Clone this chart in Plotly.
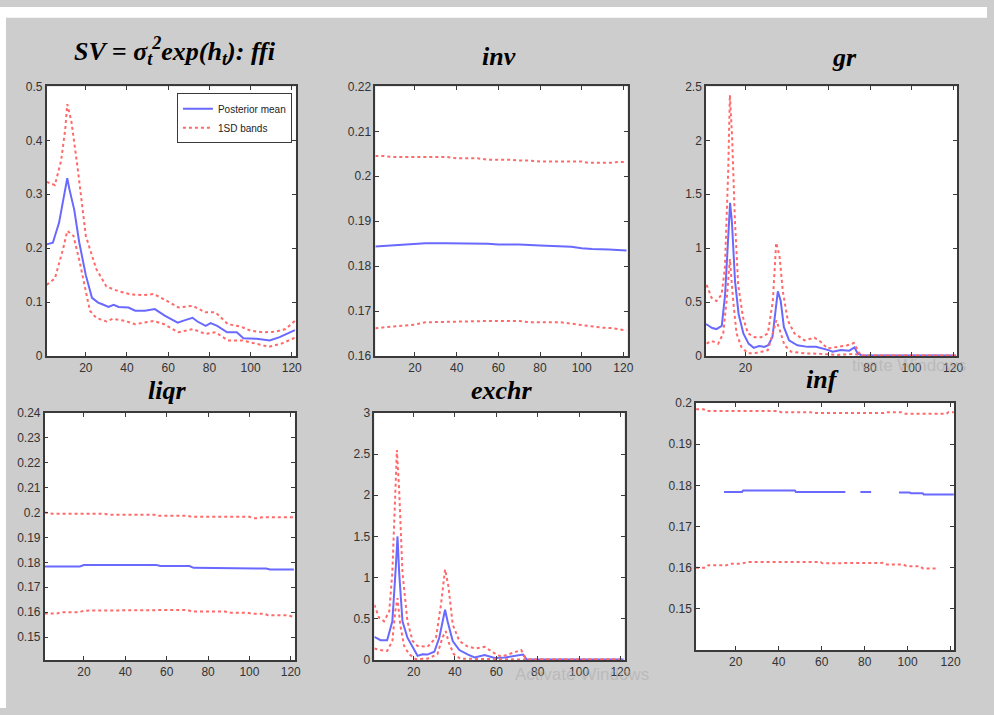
import plotly.graph_objects as go

W, H = 994, 715

# ---------------- data ----------------
titles = ["<b><i>SV = σ<sub>t</sub><sup>2</sup>exp(h<sub>t</sub>): ffi</i></b>",
          "<b><i>inv</i></b>", "<b><i>gr</i></b>",
          "<b><i>liqr</i></b>", "<b><i>exchr</i></b>", "<b><i>inf</i></b>"]

# ffi
ffi_mean_x = [1, 4, 7, 9, 11, 12, 14.4, 16.8, 20, 23, 26, 28, 31, 33.5, 36, 40.7, 44, 48.7, 53.5, 58.3,
              64.6, 68.6, 71.8, 74.2, 78.2, 80.6, 83.8, 88.6, 93.3, 96.5, 102.9, 109.3, 114.1, 121.5]
ffi_mean_y = [0.207, 0.21, 0.247, 0.285, 0.330, 0.31, 0.271, 0.211, 0.150, 0.108, 0.099, 0.096, 0.091, 0.095,
              0.091, 0.090, 0.084, 0.084, 0.087, 0.075, 0.062, 0.067, 0.071, 0.064, 0.056, 0.061, 0.056,
              0.044, 0.044, 0.033, 0.032, 0.029, 0.035, 0.048]
ffi_up_x = [1, 5, 8, 10, 11, 13, 16, 20, 25, 30, 36, 42, 48, 53, 58, 65, 72, 78, 83, 89, 95, 100, 106, 112,
            117, 121.5]
ffi_up_y = [0.323, 0.317, 0.362, 0.42, 0.467, 0.435, 0.350, 0.223, 0.162, 0.129, 0.120, 0.114, 0.113, 0.115,
            0.105, 0.090, 0.093, 0.081, 0.081, 0.059, 0.055, 0.047, 0.044, 0.045, 0.050, 0.065]
ffi_lo_x = [1, 5, 9, 11, 14, 17, 20, 22, 25, 30, 33, 39, 44, 49, 53, 58, 65, 72, 78, 83, 89, 96, 103, 109,
            115, 121.5]
ffi_lo_y = [0.132, 0.144, 0.199, 0.232, 0.223, 0.175, 0.12, 0.084, 0.071, 0.064, 0.069, 0.065, 0.059, 0.062,
            0.065, 0.059, 0.044, 0.050, 0.041, 0.044, 0.029, 0.029, 0.023, 0.017, 0.023, 0.034]

# inv
inv_mean_x = [1, 10, 20, 25, 35, 45, 55, 60, 70, 80, 85, 95, 100, 105, 113, 121.5]
inv_mean_y = [0.1844, 0.1846, 0.1849, 0.1851, 0.1851, 0.1851, 0.1850, 0.1848, 0.1848, 0.1846, 0.1845,
              0.1843, 0.1840, 0.1838, 0.1837, 0.1835]
inv_up_x = [1, 5, 10, 20, 35, 40, 50, 55, 65, 70, 75, 80, 90, 100, 103, 110, 115, 117, 121.5]
inv_up_y = [0.2045, 0.2045, 0.2043, 0.2043, 0.2043, 0.2040, 0.2040, 0.2037, 0.2037, 0.2035, 0.2035,
            0.2033, 0.2033, 0.2033, 0.2030, 0.2030, 0.2030, 0.2032, 0.2032]
inv_lo_x = [1, 10, 20, 25, 35, 40, 55, 70, 75, 90, 95, 100, 110, 115, 121.5]
inv_lo_y = [0.1662, 0.1665, 0.1670, 0.1675, 0.1676, 0.1678, 0.1678, 0.1678, 0.1675, 0.1675, 0.1672,
            0.1668, 0.1663, 0.1662, 0.1657]

# gr
gr_mean_x = [1, 4, 6, 8.6, 10.2, 11.8, 12.6, 13.5, 15, 16.7, 19, 21.5, 24, 26.5, 29, 31, 33, 34.5, 35.6, 37,
             38.5, 41, 45, 50, 54, 60, 62, 66, 70, 72.5, 74, 76, 121.5]
gr_mean_y = [0.297, 0.26, 0.25, 0.28, 0.57, 1.12, 1.42, 1.24, 0.69, 0.39, 0.21, 0.115, 0.076, 0.093, 0.085,
             0.1, 0.176, 0.42, 0.6, 0.51, 0.27, 0.145, 0.1, 0.085, 0.085, 0.055, 0.04, 0.055, 0.05, 0.08,
             0.025, 0.005, 0.005]
gr_up_x = [1.3, 3.7, 6.1, 8.5, 10.1, 11.7, 12.5, 13.6, 14.9, 16.5, 18.8, 21.2, 24.4, 27.6, 30.8, 33.2, 34.8,
           36.4, 38, 40.4, 43.6, 48.4, 53.2, 56.4, 59.5, 64.3, 69.1, 72.3, 74.7, 76.3, 121.5]
gr_up_y = [0.66, 0.54, 0.51, 0.57, 0.81, 1.72, 2.42, 2.02, 1.27, 0.66, 0.36, 0.21, 0.175, 0.175, 0.21,
           0.51, 1.05, 0.93, 0.6, 0.33, 0.21, 0.145, 0.17, 0.13, 0.07, 0.085, 0.1, 0.12, 0.03, 0.005, 0.005]
gr_lo_x = [1.3, 3.7, 6.9, 9.3, 10.9, 12.5, 14.1, 15.7, 18, 21.2, 26, 30.8, 33.2, 34.8, 36.4, 38.8, 42, 48.4,
           56.4, 64.3, 72.3, 75.5, 121.5]
gr_lo_y = [0.115, 0.14, 0.115, 0.21, 0.51, 0.9, 0.51, 0.21, 0.085, 0.025, 0.03, 0.055, 0.21, 0.33, 0.25,
           0.1, 0.04, 0.025, 0.02, 0.01, 0.02, 0.005, 0.005]

# liqr
liqr_mean_x = [1, 18, 20, 55, 57, 71, 73, 95, 100, 108, 110, 121.5]
liqr_mean_y = [0.1783, 0.1783, 0.1789, 0.1789, 0.1785, 0.1785, 0.1778, 0.1778, 0.1775, 0.1775, 0.1771, 0.1771]
liqr_up_x = [1, 3, 5, 30, 32, 54, 56, 70, 72, 100, 102, 104, 106, 121.5]
liqr_up_y = [0.2000, 0.1998, 0.1995, 0.1995, 0.1991, 0.1991, 0.1987, 0.1987, 0.1983, 0.1983, 0.1977, 0.1977,
             0.1981, 0.1981]
liqr_lo_x = [1, 7, 9, 18, 20, 27, 29, 70, 72, 88, 90, 99, 101, 107, 109, 118, 121.5]
liqr_lo_y = [0.1595, 0.1595, 0.1600, 0.1600, 0.1606, 0.1606, 0.1609, 0.1609, 0.1603, 0.1603, 0.1598, 0.1598,
             0.1594, 0.1594, 0.1588, 0.1588, 0.1581]

# exchr
ex_mean_x = [1, 4, 7.2, 9.7, 11.4, 12.2, 13, 14.6, 17, 19.5, 21.9, 24.3, 26.7, 30, 32.4, 35.2, 36.4, 38.9,
             42.1, 46.3, 49.5, 54.3, 59.2, 64, 68.8, 72.9, 74.5, 75.3, 121.5]
ex_mean_y = [0.28, 0.24, 0.24, 0.47, 1.14, 1.5, 1.06, 0.47, 0.27, 0.15, 0.05, 0.07, 0.065, 0.1, 0.27, 0.61,
             0.47, 0.23, 0.12, 0.065, 0.03, 0.06, 0.025, 0.03, 0.05, 0.065, 0.01, 0.005, 0.005]
ex_up_x = [1, 3.3, 5.7, 8.2, 9.7, 11.1, 11.9, 13, 14.6, 17, 19.5, 21.9, 26.7, 30.8, 33.2, 35.2, 36.8, 38.9,
           42.1, 46.3, 50.3, 54.3, 59.2, 62.4, 66.4, 72, 74, 75.3, 121.5]
ex_up_y = [0.67, 0.51, 0.47, 0.59, 1.06, 1.94, 2.55, 2.06, 1.06, 0.47, 0.23, 0.17, 0.16, 0.27, 0.67, 1.1,
           0.9, 0.43, 0.23, 0.16, 0.14, 0.16, 0.08, 0.04, 0.07, 0.12, 0.03, 0.005, 0.005]
ex_lo_x = [1, 4, 7.2, 9.7, 11.1, 12.2, 13.5, 15.4, 17.8, 21, 26.7, 31.5, 33.9, 35.5, 37, 39.4, 42.6, 60,
           75, 121.5]
ex_lo_y = [0.14, 0.12, 0.11, 0.23, 0.59, 0.75, 0.43, 0.17, 0.07, 0.01, 0.015, 0.07, 0.27, 0.35, 0.21, 0.07,
           0.015, 0.01, 0.005, 0.005]

# inf (mean has gaps)
inf_mean_x = [14.5, 22.9, 23.4, 47.5, 48, 71, 75, 78, 83, 90, 96, 101, 101.5, 107, 107.5, 121.5]
inf_mean_y = [0.1784, 0.1784, 0.1788, 0.1788, 0.1784, 0.1784, None, 0.1784, 0.1784, None, 0.1783, 0.1783,
              0.1781, 0.1781, 0.1778, 0.1778]
inf_up_x = [1.5, 5, 6, 40, 41, 55, 56, 89, 90, 97, 99, 118, 119, 121.5]
inf_up_y = [0.1985, 0.1985, 0.1981, 0.1981, 0.1978, 0.1978, 0.1976, 0.1976, 0.1978, 0.1978, 0.1974, 0.1974,
            0.1978, 0.1978]
inf_lo_x = [1.5, 5.7, 7.2, 15.7, 17.2, 22.6, 25.7, 59.5, 60.3, 71.8, 73.4, 88.8, 90.3, 98, 99.5, 105.7,
            107.2, 113.8]
inf_lo_y = [0.16, 0.16, 0.1606, 0.1606, 0.161, 0.161, 0.1614, 0.1614, 0.1611, 0.1611, 0.1612, 0.1612,
            0.1608, 0.1608, 0.1604, 0.1604, 0.1598, 0.1598]

# y-axis settings per panel
y_ranges = [[0, 0.5], [0.16, 0.22], [0, 2.5], [0.1408, 0.24], [0, 3], [0.14, 0.2]]
y_ticks = [[0, 0.1, 0.2, 0.3, 0.4, 0.5],
           [0.16, 0.17, 0.18, 0.19, 0.2, 0.21, 0.22],
           [0, 0.5, 1, 1.5, 2, 2.5],
           [0.15, 0.16, 0.17, 0.18, 0.19, 0.2, 0.21, 0.22, 0.23, 0.24],
           [0, 0.5, 1, 1.5, 2, 2.5, 3],
           [0.15, 0.16, 0.17, 0.18, 0.19, 0.2]]
y_ticktext = [["0", "0.1", "0.2", "0.3", "0.4", "0.5"],
              ["0.16", "0.17", "0.18", "0.19", "0.2", "0.21", "0.22"],
              ["0", "0.5", "1", "1.5", "2", "2.5"],
              ["0.15", "0.16", "0.17", "0.18", "0.19", "0.2", "0.21", "0.22", "0.23", "0.24"],
              ["0", "0.5", "1", "1.5", "2", "2.5", "3"],
              ["0.15", "0.16", "0.17", "0.18", "0.19", "0.2"]]
# gr: labels 40 and 60 are hidden in the picture (ticks kept as unlabeled minor ticks)
x_labeled = [[20, 40, 60, 80, 100, 120], [20, 40, 60, 80, 100, 120], [20, 80, 100, 120],
             [20, 40, 60, 80, 100, 120], [20, 40, 60, 80, 100, 120], [20, 40, 60, 80, 100, 120]]
x_unlabeled = [[], [], [40, 60], [], [], []]
x_ranges = [[1, 122], [1, 122], [1, 122], [1, 122], [1, 122], [1.5, 121.7]]

series = [
    (ffi_mean_x, ffi_mean_y, ffi_up_x, ffi_up_y, ffi_lo_x, ffi_lo_y),
    (inv_mean_x, inv_mean_y, inv_up_x, inv_up_y, inv_lo_x, inv_lo_y),
    (gr_mean_x, gr_mean_y, gr_up_x, gr_up_y, gr_lo_x, gr_lo_y),
    (liqr_mean_x, liqr_mean_y, liqr_up_x, liqr_up_y, liqr_lo_x, liqr_lo_y),
    (ex_mean_x, ex_mean_y, ex_up_x, ex_up_y, ex_lo_x, ex_lo_y),
    (inf_mean_x, inf_mean_y, inf_up_x, inf_up_y, inf_lo_x, inf_lo_y),
]

# ---------------- layout geometry (window pixels) ----------------
boxes = [(47, 298, 81, 356), (378, 632, 81, 356), (711, 964, 81, 356),
         (45, 297, 414, 666), (377, 629, 414, 666), (701, 961, 404, 656)]
title_pos = [(176, 45), (503, 50), (850, 51), (168, 391), (506, 391), (828, 380)]


def px(x):
    return x / W


def py(y):
    return 1 - y / H


BLUE = "rgb(105,105,255)"
RED = "rgb(255,105,105)"
AX = "#3a3a3a"
TICKFONT = dict(family="Liberation Sans Narrow, Arial Narrow, Liberation Sans, Arial", size=12, color="#333333")

fig = go.Figure()
layout = dict(width=W, height=H, margin=dict(l=0, r=0, t=0, b=0),
              paper_bgcolor="#cdcdcd", plot_bgcolor="white", showlegend=True)

for i, (mx, my, ux, uy, lx, ly) in enumerate(series):
    n = i + 1
    xa = "x" if n == 1 else f"x{n}"
    ya = "y" if n == 1 else f"y{n}"
    fig.add_trace(go.Scatter(x=mx, y=my, mode="lines", xaxis=xa, yaxis=ya,
                             line=dict(color=BLUE, width=2), name="Posterior mean",
                             showlegend=(n == 1), connectgaps=False))
    fig.add_trace(go.Scatter(x=ux, y=uy, mode="lines", xaxis=xa, yaxis=ya,
                             line=dict(color=RED, width=2, dash="dot"), name="1SD bands",
                             showlegend=(n == 1), legendgroup="bands"))
    fig.add_trace(go.Scatter(x=lx, y=ly, mode="lines", xaxis=xa, yaxis=ya,
                             line=dict(color=RED, width=2, dash="dot"), name="1SD bands",
                             showlegend=False, legendgroup="bands"))
    x0, x1, y0, y1 = boxes[i]
    common = dict(showline=True, mirror="ticks", linecolor=AX, linewidth=1.5,
                  ticks="inside", ticklen=4, tickwidth=1, tickcolor=AX,
                  showgrid=False, zeroline=False, tickfont=TICKFONT)
    xdict = dict(domain=[px(x0), px(x1)], range=x_ranges[i], anchor=ya,
                 tickmode="array", tickvals=x_labeled[i],
                 ticktext=[str(v) for v in x_labeled[i]], **common)
    if x_unlabeled[i]:
        xdict["minor"] = dict(tickmode="array", tickvals=x_unlabeled[i], ticks="inside",
                              ticklen=4, tickwidth=1, tickcolor=AX, showgrid=False)
    layout["xaxis" if n == 1 else f"xaxis{n}"] = xdict
    layout["yaxis" if n == 1 else f"yaxis{n}"] = dict(
        domain=[py(y1), py(y0)], range=y_ranges[i], anchor=xa,
        tickmode="array", tickvals=y_ticks[i], ticktext=y_ticktext[i], **common)

annotations = []
for i, t in enumerate(titles):
    cx, cy = title_pos[i]
    annotations.append(dict(text=t, x=px(cx), y=py(cy), xref="paper", yref="paper",
                            showarrow=False, xanchor="center", yanchor="middle",
                            font=dict(family="Liberation Serif, DejaVu Serif, serif", size=26, color="black")))
# faint desktop watermark visible in the screenshot
annotations.append(dict(text="Activate Windows", x=px(517), y=py(681), xref="paper", yref="paper",
                        showarrow=False, xanchor="left", yanchor="middle",
                        font=dict(family="Liberation Sans", size=17, color="rgba(170,170,170,0.55)")))
annotations.append(dict(text="tivate Windows", x=px(856), y=py(366), xref="paper", yref="paper",
                        showarrow=False, xanchor="left", yanchor="middle",
                        font=dict(family="Liberation Sans", size=17, color="rgba(170,170,170,0.55)")))
layout["annotations"] = annotations

# white strips at the top and left edge of the screenshot
layout["shapes"] = [
    dict(type="rect", xref="paper", yref="paper", x0=0, x1=1, y0=py(11), y1=1,
         fillcolor="white", line=dict(width=0), layer="above"),
    dict(type="rect", xref="paper", yref="paper", x0=0, x1=px(6), y0=0, y1=1,
         fillcolor="white", line=dict(width=0), layer="above"),
]

layout["legend"] = dict(x=px(294), y=py(88), xanchor="right", yanchor="top",
                        bgcolor="white", bordercolor=AX, borderwidth=1,
                        font=dict(family="Liberation Sans Narrow, Arial Narrow, Liberation Sans, Arial",
                                  size=10, color="#222222"),
                        tracegroupgap=0, itemwidth=30)

fig.update_layout(**layout)
fig.write_html("out.html", config={"displayModeBar": False},
               post_script="document.body.style.margin='0';document.body.style.overflow='hidden';")
